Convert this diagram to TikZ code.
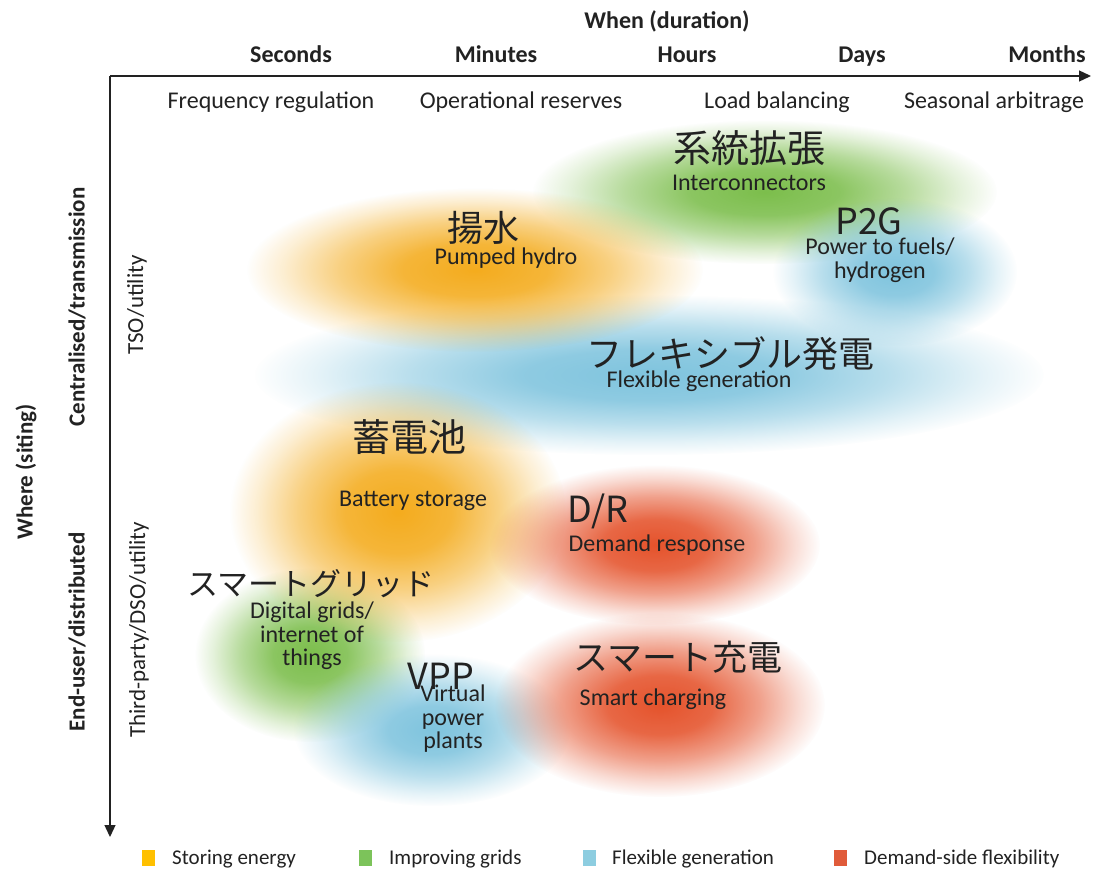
\documentclass[tikz,border=0pt]{standalone}
\usepackage{fontspec}
\setmainfont{Carlito}
\newfontfamily\cjk{Noto Sans CJK JP}
\usetikzlibrary{fadings,arrows.meta}
\pgfdeclareradialshading{blobshade}{\pgfpointorigin}{color(0bp)=(white); color(8bp)=(white!88!black); color(15bp)=(white!55!black); color(21bp)=(white!20!black); color(25bp)=(black); color(50bp)=(black)}
\pgfdeclarefading{blob}{\pgfuseshading{blobshade}}
\definecolor{orgb}{HTML}{F4AC1E}
\definecolor{grnb}{HTML}{7CBE4C}
\definecolor{blub}{HTML}{7FC4DE}
\definecolor{redb}{HTML}{E5532C}
\definecolor{orgl}{HTML}{FFC000}
\definecolor{grnl}{HTML}{7CC35A}
\definecolor{blul}{HTML}{8DCDE0}
\definecolor{redl}{HTML}{E05B3A}
\definecolor{txt}{HTML}{222222}
\begin{document}
\begin{tikzpicture}[x=1pt,y=-1pt,
  every node/.style={text=txt, inner sep=0pt},
  lbl/.style={font=\fontsize{24}{23.5}\selectfont, align=center},
  bld/.style={font=\bfseries\fontsize{24}{26}\selectfont, anchor=base},
  reg/.style={font=\fontsize{24}{26}\selectfont, anchor=base},
  jp/.style={font=\cjk\fontsize{38}{40}\selectfont},
  legtxt/.style={font=\fontsize{21}{24}\selectfont, anchor=west},
  legbox/.style={minimum width=13pt, minimum height=16pt},
  axis/.style={line width=1.3pt, draw=txt, -{Triangle[length=12pt,width=11pt]}},
  bo/.style={fill=orgb, path fading=blob, fit fading=true},
  bg/.style={fill=grnb, path fading=blob, fit fading=true},
  bb/.style={fill=blub, path fading=blob, fit fading=true},
  br/.style={fill=redb, path fading=blob, fit fading=true}]
\useasboundingbox (0,0) rectangle (1094,873);
\fill[white] (0,0) rectangle (1094,873);

% blobs
\fill[bb] (650,375) ellipse [x radius=395, y radius=80];
\fill[bg] (765,192) ellipse [x radius=232, y radius=72];
\fill[bb] (895,272) ellipse [x radius=122, y radius=74];
\fill[bo] (475,270) ellipse [x radius=228, y radius=82];
\fill[bg] (310,655) ellipse [x radius=115, y radius=87];
\fill[bo] (398,512) ellipse [x radius=168, y radius=130];
\fill[br] (655,545) ellipse [x radius=165, y radius=80];
\fill[bb] (432,730) ellipse [x radius=138, y radius=76];
\fill[br] (660,705) ellipse [x radius=165, y radius=92];

% axes
\coordinate (O) at (110,76);
\coordinate (XE) at (1091,76);
\coordinate (YE) at (110,837);
\draw[axis] (O) -- (XE);
\draw[axis] (O) -- (YE);

% top labels
\node[bld] (when) at (667,28) {When (duration)};
\node[bld] (sec) at (291,62) {Seconds};
\node[bld] (min) at (496,62) {Minutes};
\node[bld] (hrs) at (687,62) {Hours};
\node[bld] (days) at (862,62) {Days};
\node[bld] (mon) at (1047,62) {Months};
\node[reg] (freq) at (271,108) {Frequency regulation};
\node[reg] (oper) at (521,108) {Operational reserves};
\node[reg] (load) at (777,108) {Load balancing};
\node[reg] (seas) at (994,108) {Seasonal arbitrage};

% left labels
\node[font=\bfseries\fontsize{23}{26}\selectfont, rotate=90] (where) at (26,472) {Where (siting)};
\node[font=\bfseries\fontsize{23}{26}\selectfont, rotate=90] (cent) at (77,307) {Centralised/transmission};
\node[font=\bfseries\fontsize{23}{26}\selectfont, rotate=90] (endu) at (77,632) {End-user/distributed};
\node[font=\fontsize{23}{26}\selectfont, rotate=90] (tso) at (137,305) {TSO/utility};
\node[font=\fontsize{23}{26}\selectfont, rotate=90] (third) at (139,630) {Third-party/DSO/utility};

% blob labels
\node[jp] (jkeito) at (749,148) {系統拡張};
\node[lbl] (inter) at (749,183) {Interconnectors};
\node[jp, font=\cjk\fontsize{36}{40}\selectfont] (jyosui) at (483,228) {揚水};
\node[lbl] (pump) at (506,258) {Pumped hydro};
\node[jp, font=\cjk\fontsize{36}{40}\selectfont] (jp2g) at (869,221) {P2G};
\node[lbl] (p2g) at (880,260) {Power to fuels/\\hydrogen};
\node[jp, font=\cjk\fontsize{36}{40}\selectfont] (jflex) at (730,354) {フレキシブル発電};
\node[lbl] (flex) at (699,381) {Flexible generation};
\node[jp] (jbatt) at (409,437) {蓄電池};
\node[lbl] (batt) at (413,501) {Battery storage};
\node[jp, font=\cjk\fontsize{36}{40}\selectfont] (jdr) at (598,511) {D/R};
\node[lbl] (dr) at (657,545) {Demand response};
\node[jp, font=\cjk\fontsize{31}{40}\selectfont] (jsg) at (311,584) {スマートグリッド};
\node[lbl] (sg) at (312,636) {Digital grids/\\internet of\\things};
\node[jp, font=\cjk\fontsize{36}{40}\selectfont] (jvpp) at (441,676) {VPP};
\node[lbl] (vpp) at (453,719) {Virtual\\power\\plants};
\node[jp, font=\cjk\fontsize{35}{40}\selectfont] (jsc) at (678,657) {スマート充電};
\node[lbl] (sc) at (653,699) {Smart charging};

% legend
\node[legbox, fill=orgl] (l1) at (148,858) {};
\node[legtxt] (t1) at (172,859) {Storing energy};
\node[legbox, fill=grnl] (l2) at (365,858) {};
\node[legtxt] (t2) at (389,859) {Improving grids};
\node[legbox, fill=blul] (l3) at (589,858) {};
\node[legtxt] (t3) at (612,859) {Flexible generation};
\node[legbox, fill=redl] (l4) at (840,858) {};
\node[legtxt] (t4) at (864,859) {Demand-side flexibility};
\end{tikzpicture}
\end{document}
